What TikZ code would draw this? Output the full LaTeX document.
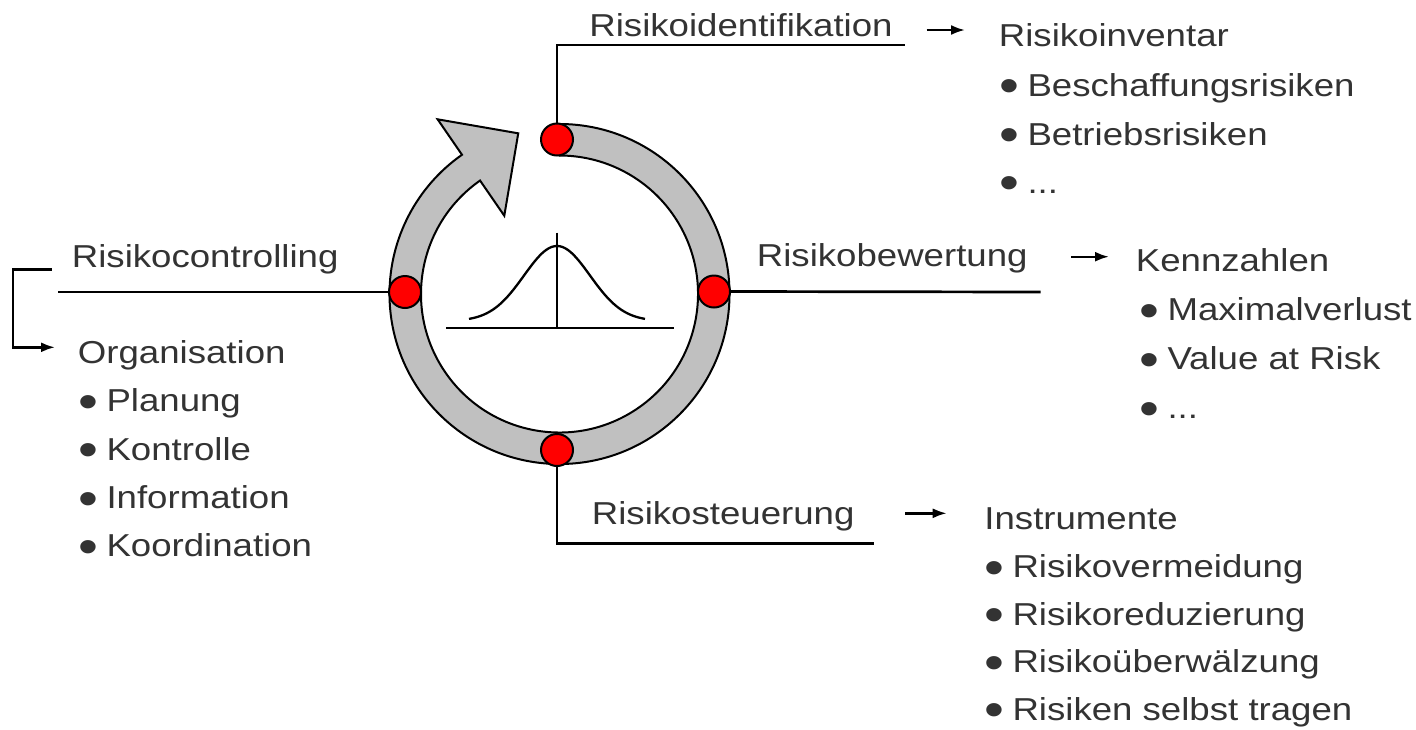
\documentclass[tikz,border=0pt]{standalone}
\usepackage{fontspec}
\usepackage{graphicx}
\setmainfont[FakeStretch=1.155]{Liberation Sans}
\usetikzlibrary{arrows.meta}
\definecolor{txt}{gray}{0.2}
\definecolor{ringgray}{RGB}{192,192,192}
\newcommand{\bul}{\smash{\raisebox{-0.22em}{\scalebox{1.55}{•}}}\hspace{0.26em}}
\begin{document}
\begin{tikzpicture}[x=0.5pt,y=-0.5pt,
  lbl/.style={anchor=base west, inner sep=0pt, text=txt, font=\fontsize{15.85pt}{19pt}\selectfont},
  conn/.style={line width=1.35pt, draw=black},
  arr/.style={line width=1.2pt, -{Latex[length=7pt,width=5pt]}},
  dot/.style={circle, draw=black, line width=1pt, fill=red, minimum size=16pt, inner sep=0pt},
  ring/.style={draw=black, line width=1pt, fill=ringgray}]
\path[use as bounding box] (0,0) rectangle (1416,729);
% ring with arrow head
\begin{scope}[shift={(559.5,294)}]
\path[ring] (90:85pt) arc[start angle=90, end angle=-235, radius=85pt]
  -- (124.9:106.5pt) -- (104.4:82.95pt) -- (125.2:47.9pt)
  -- (-235:69.25pt) arc[start angle=-235, end angle=90, radius=69.25pt] -- cycle;
\end{scope}
% bell curve
\draw[line width=1.15pt] (446,327.7) -- (674,327.7);
\draw[line width=1.15pt] (557,232.7) -- (557,327.7);
\draw[line width=1.15pt] plot[domain=-88:88, samples=90, smooth] ({557+\x},{321-75*exp(-\x*\x/(2*33*33))});
% dots
\node[dot] (dtop) at (557,139.5) {};
\node[dot] (dleft) at (405,292) {};
\node[dot] (dright) at (714,291.5) {};
\node[dot] (dbot) at (557,450) {};
% connector end points
\coordinate (etop) at (905,45);
\coordinate (eleft) at (58.3,292);
\coordinate (eright) at (1040.7,292);
\coordinate (ebot) at (874.3,543.3);
\draw[conn] (dtop.north) |- (etop);
\draw[conn] (dleft.west) -- (eleft);
\draw[conn] (dright.east) -- (eright);
\draw[conn] (dbot.south) |- (ebot);
% main labels
\node[lbl] (tRI) at (589,36.7) {Risikoidentifikation};
\node[lbl] (tRC) at (71.5,267.7) {Risikocontrolling};
\node[lbl] (tRB) at (756.5,266.7) {Risikobewertung};
\node[lbl] (tRS) at (591.5,524.5) {Risikosteuerung};
% arrows
\coordinate (a1s) at (926.7,30); \coordinate (a1e) at (965,30);
\coordinate (a2s) at (1071,256.7); \coordinate (a2e) at (1109,256.7);
\coordinate (a3s) at (905,513.3); \coordinate (a3e) at (946.7,513.3);
\draw[arr] (a1s) -- (a1e);
\draw[arr] (a2s) -- (a2e);
\draw[arr] (a3s) -- (a3e);
% left bracket
\coordinate (b1) at (51.7,269.3);
\coordinate (b2) at (12.7,269.3);
\coordinate (b3) at (12.7,347.3);
\coordinate (b4) at (55,347.3);
\draw[arr] (b1) -- (b2) -- (b3) -- (b4);
% top list
\node[lbl] (l1h) at (998.5,46.7) {Risikoinventar};
\node[lbl] (l1a) at (999,96) {\bul Beschaffungsrisiken};
\node[lbl] (l1b) at (999,145) {\bul Betriebsrisiken};
\node[lbl] (l1c) at (999,193) {\bul ...};
% right list
\node[lbl] (l2h) at (1135.5,271.7) {Kennzahlen};
\node[lbl] (l2a) at (1139,320.7) {\bul Maximalverlust};
\node[lbl] (l2b) at (1139,369.3) {\bul Value at Risk};
\node[lbl] (l2c) at (1139,418.3) {\bul ...};
% bottom list
\node[lbl] (l3h) at (984,529.3) {Instrumente};
\node[lbl] (l3a) at (984,577.5) {\bul Risikovermeidung};
\node[lbl] (l3b) at (984,625) {\bul Risikoreduzierung};
\node[lbl] (l3c) at (984,672.5) {\bul Risikoüberwälzung};
\node[lbl] (l3d) at (984,720) {\bul Risiken selbst tragen};
% left list
\node[lbl] (l4h) at (77.5,363.3) {Organisation};
\node[lbl] (l4a) at (78,411.7) {\bul Planung};
\node[lbl] (l4b) at (78,460) {\bul Kontrolle};
\node[lbl] (l4c) at (78,508.3) {\bul Information};
\node[lbl] (l4d) at (78,556.7) {\bul Koordination};
\end{tikzpicture}
\end{document}
